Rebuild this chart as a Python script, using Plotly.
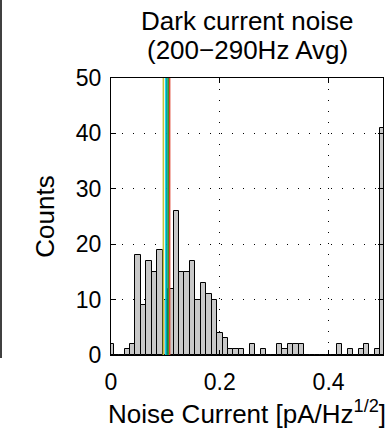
import plotly.graph_objects as go

# Histogram bin centers (pA/Hz^1/2) and counts
bin_centers = [round(0.01 * k, 2) for k in range(51)]
counts = [2, 0, 0, 1, 2, 18, 9, 17, 15, 19,
          10, 12, 26, 15, 15, 17, 10, 13, 11, 10,
          4, 3, 1, 1, 1, 0, 2, 0, 1, 0,
          0, 2, 1, 2, 2, 2, 0, 0, 0, 0,
          0, 0, 2, 0, 1, 0, 1, 2, 0, 1,
          41]

# Reference markers (vertical lines)
marker_values = [0.0963, 0.1009, 0.1028, 0.1055, 0.1077]
marker_colors = ["#c4c43c", "#00d8e8", "#0090a8", "#10b020", "#e04030"]

x_ticks = [0, 0.2, 0.4]
x_tick_text = ["0", "0.2", "0.4"]
y_ticks = [0, 10, 20, 30, 40, 50]
title_lines = ["Dark current noise", "(200\u2212290Hz Avg)"]

fig = go.Figure()
fig.add_trace(go.Bar(
    x=bin_centers, y=counts, width=0.01,
    marker=dict(color="#c8c8c8", line=dict(color="black", width=1)),
    showlegend=False, hoverinfo="skip",
))
for v, c in zip(marker_values, marker_colors):
    fig.add_trace(go.Scatter(
        x=[v, v], y=[0, 50], mode="lines",
        line=dict(color=c, width=1.6), showlegend=False, hoverinfo="skip",
    ))

font = "Liberation Sans, Arial, Helvetica, sans-serif"
dots = "1px,10px"
plot_h = 277
title_centers_px = [21, 50]
fig.update_layout(
    width=392, height=435,
    margin=dict(l=111, r=9, t=78, b=80),
    paper_bgcolor="white", plot_bgcolor="white",
    bargap=0,
    font=dict(family=font, size=23, color="black"),
    xaxis=dict(range=[0, 0.5], tickvals=x_ticks, ticktext=x_tick_text,
               ticks="inside", ticklen=5, tickcolor="black",
               ticklabelstandoff=6,
               showline=True, linecolor="black", linewidth=1.2, mirror="ticks",
               showgrid=True, gridcolor="black", griddash=dots, gridwidth=1,
               zeroline=False,
               title=dict(text="Noise Current [pA/Hz<sup>1/2</sup>]", standoff=11,
                          font=dict(size=26))),
    yaxis=dict(range=[0, 50], tickvals=y_ticks,
               ticks="inside", ticklen=5, tickcolor="black",
               ticklabelstandoff=4,
               showline=True, linecolor="black", linewidth=1.2, mirror="ticks",
               showgrid=True, gridcolor="black", griddash=dots, gridwidth=1,
               zeroline=False,
               title=dict(text="Counts", standoff=13, font=dict(size=26))),
    annotations=[dict(text=t, xref="paper", yref="paper",
                      x=0.5, xanchor="center",
                      y=1 + (78 - yc) / plot_h, yanchor="middle",
                      showarrow=False, align="center",
                      font=dict(size=26, family=font, color="black"))
                 for t, yc in zip(title_lines, title_centers_px)],
    shapes=[dict(type="line", xref="paper", yref="paper",
                 x0=-110 / 272, x1=-110 / 272, y0=-3 / plot_h, y1=1 + 78 / plot_h,
                 line=dict(color="black", width=1.5))],
)

fig.write_html("out.html", config={"displayModeBar": False},
               post_script="document.body.style.margin='0';")
